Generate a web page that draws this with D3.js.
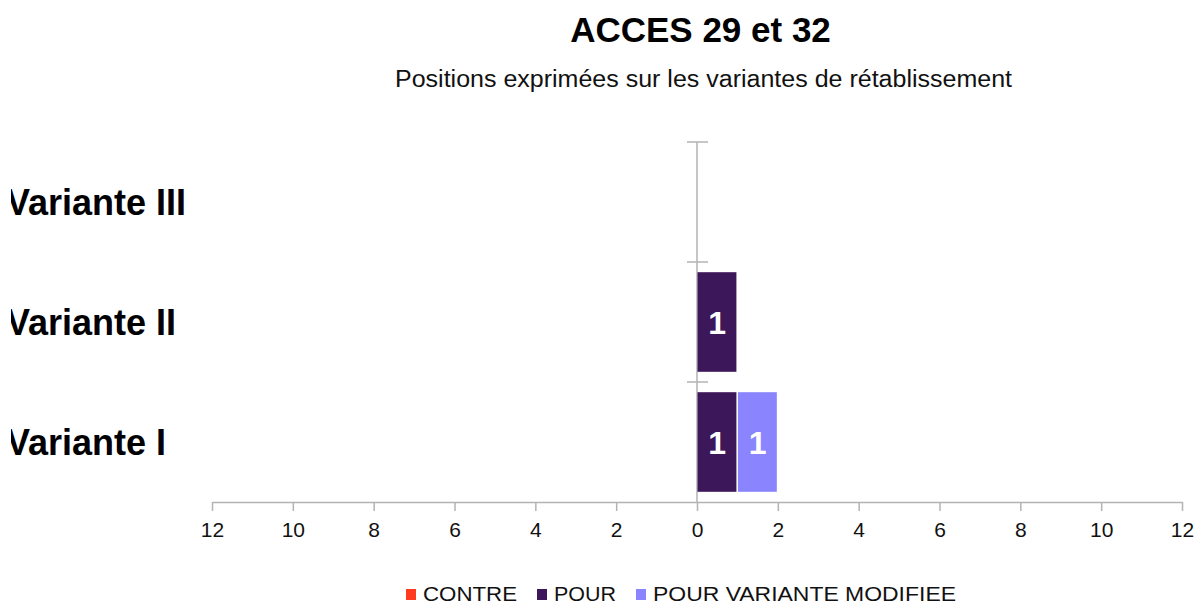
<!DOCTYPE html>
<html>
<head>
<meta charset="utf-8">
<script src="https://cdn.jsdelivr.net/npm/d3@7"></script>
<style>
  html, body { margin: 0; padding: 0; background: #fff; }
  svg { display: block; font-family: "Liberation Sans", Arial, sans-serif; }
</style>
</head>
<body>
<svg id="chart" width="1195" height="604"></svg>
<script>
// Categories, bottom to top
const categories = ["Variante I", "Variante II", "Variante III"];
// Counts per position (CONTRE goes to the left of zero)
const contre = [0, 0, 0];
const pour = [1, 1, 0];
const pourModifiee = [1, 0, 0];
const xTicks = [-12, -10, -8, -6, -4, -2, 0, 2, 4, 6, 8, 10, 12];
const seriesNames = ["CONTRE", "POUR", "POUR VARIANTE MODIFIEE"];
const seriesColors = ["#ff3a1f", "#3c1759", "#8b84ff"];

const svg = d3.select("#chart");
const axisColor = "#b3b3b3";

const x = d3.scaleLinear().domain([-12, 12]).range([212, 1182]);
const y = d3.scaleBand().domain(categories.slice().reverse()).range([142, 502])
  .paddingInner(0.17).paddingOuter(0.085);
const yBand = d3.scaleBand().domain(categories.slice().reverse()).range([142, 502]);

// Title
svg.append("text").attr("x", 700.5).attr("y", 42).attr("text-anchor", "middle")
  .attr("font-size", 35).attr("font-weight", "bold").attr("fill", "#000")
  .text("ACCES 29 et 32");
svg.append("text").attr("x", 703.5).attr("y", 87).attr("text-anchor", "middle")
  .attr("font-size", 23.5).attr("fill", "#111")
  .attr("textLength", 617).attr("lengthAdjust", "spacingAndGlyphs")
  .text("Positions exprimées sur les variantes de rétablissement");

// Vertical axis at zero with cross ticks on band boundaries
const g = svg.append("g");
g.append("line").attr("x1", x(0)).attr("x2", x(0)).attr("y1", 142).attr("y2", 502)
  .attr("stroke", axisColor).attr("stroke-width", 1.5);
const bounds = categories.map(c => yBand(c));
g.selectAll("line.ytick").data(bounds.filter(b => b < 500)).join("line")
  .attr("class", "ytick")
  .attr("x1", x(0) - 10).attr("x2", x(0) + 11)
  .attr("y1", d => d).attr("y2", d => d)
  .attr("stroke", axisColor).attr("stroke-width", 1.5);

// Bars: stacked layout, CONTRE to the left, others to the right
const rows = categories.map((c, i) => ({ cat: c, contre: contre[i], pour: pour[i], mod: pourModifiee[i] }));
const segs = [];
rows.forEach(r => {
  if (r.contre > 0) segs.push({ cat: r.cat, x0: -r.contre, x1: 0, v: r.contre, color: seriesColors[0] });
  if (r.pour > 0) segs.push({ cat: r.cat, x0: 0, x1: r.pour, v: r.pour, color: seriesColors[1] });
  if (r.mod > 0) segs.push({ cat: r.cat, x0: r.pour, x1: r.pour + r.mod, v: r.mod, color: seriesColors[2] });
});
g.selectAll("rect.bar").data(segs).join("rect")
  .attr("class", "bar")
  .attr("x", d => x(d.x0) + 0.5)
  .attr("width", d => x(d.x1) - x(d.x0) - 1.5)
  .attr("y", d => y(d.cat))
  .attr("height", y.bandwidth())
  .attr("fill", d => d.color);
g.selectAll("text.val").data(segs).join("text")
  .attr("class", "val")
  .attr("x", d => (x(d.x0) + x(d.x1)) / 2)
  .attr("y", d => y(d.cat) + y.bandwidth() / 2 + 12)
  .attr("text-anchor", "middle").attr("font-size", 32).attr("font-weight", "bold")
  .attr("fill", "#fff").text(d => d.v);

// Horizontal axis
const xAxis = d3.axisBottom(x).tickValues(xTicks).tickFormat(d => Math.abs(d)).tickSize(9).tickSizeOuter(0);
const ax = svg.append("g").attr("transform", "translate(0,502)").call(xAxis);
ax.select(".domain").attr("stroke", axisColor).attr("stroke-width", 1.5);
ax.selectAll(".tick line").attr("stroke", axisColor).attr("stroke-width", 1.5);
ax.selectAll(".tick text").attr("font-size", 21).attr("fill", "#111").attr("dy", null).attr("y", 35)
  .attr("font-family", "Liberation Sans, Arial, sans-serif");

// Category labels, partly cut at the left edge
svg.append("clipPath").attr("id", "lblclip").append("rect")
  .attr("x", 11).attr("y", 0).attr("width", 400).attr("height", 604);
svg.append("g").attr("clip-path", "url(#lblclip)")
  .selectAll("text").data(categories).join("text")
  .attr("x", 6).attr("y", d => yBand(d) + yBand.bandwidth() / 2 + 13)
  .attr("font-size", 36).attr("font-weight", "bold").attr("fill", "#000")
  .text(d => d);

// Legend
const legendX = [406, 537, 636];
const legendW = [94, 62, 303];
const lg = svg.append("g");
seriesNames.forEach((n, i) => {
  lg.append("rect").attr("x", legendX[i]).attr("y", 589).attr("width", 10).attr("height", 11)
    .attr("fill", seriesColors[i]);
  lg.append("text").attr("x", legendX[i] + 17).attr("y", 601)
    .attr("font-size", 21).attr("fill", "#111")
    .attr("textLength", legendW[i]).attr("lengthAdjust", "spacingAndGlyphs")
    .text(n);
});
</script>
</body>
</html>
